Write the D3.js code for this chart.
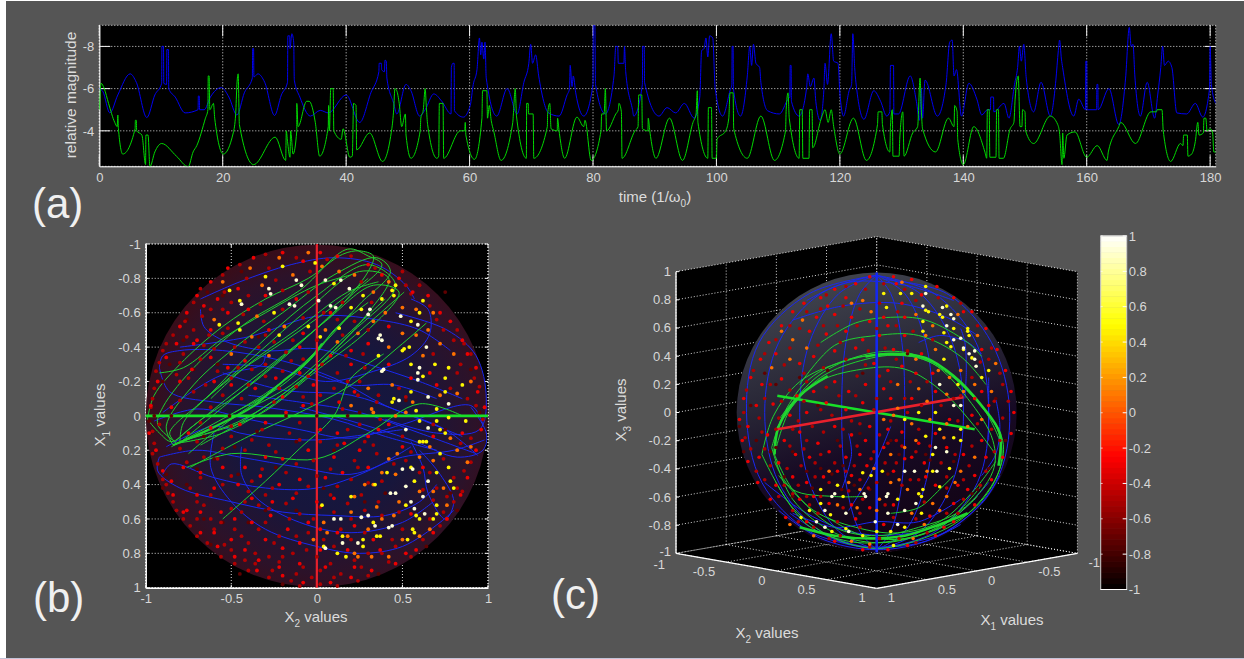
<!DOCTYPE html>
<html>
<head>
<meta charset="utf-8">
<script src="https://cdn.jsdelivr.net/npm/d3@7"></script>
<style>
html, body { margin: 0; padding: 0; background: #fff; overflow: hidden; }
text { font-family: "Liberation Sans", Arial, sans-serif; fill: #dcdcdc; }
.tick text { font-size: 13px; fill: #d8d8d8; }
</style>
</head>
<body>
<svg id="chart" width="1244" height="659"></svg>
<script>
// ---- panel (a) time series: [time, magnitude]
const blueMag = [[0,-6],[.6,-5.85],[1.7,-4.85],[3,-5.7],[5,-6.7],[6,-6.3],[7.7,-4.63],[9,-5.7],[10.1,-6.25],[10.15,-8],[10.4,-8],[10.45,-6.25],[10.9,-6.2],[10.95,-7.85],[11.2,-7.85],[11.25,-6],[12.3,-5.6],[13.9,-4.85],[16,-5],[16.05,-5.65],[16.2,-5.65],[16.25,-5],[17,-5],[18,-5.6],[19.8,-6.05],[21,-5.6],[22.3,-4.75],[23.5,-5.8],[24.8,-6.5],[24.85,-7.9],[25,-7.9],[25.05,-6.55],[25.7,-6.7],[26.8,-6.3],[28.4,-4.73],[29.5,-5.7],[30.5,-6.3],[30.55,-8.5],[30.85,-8.5],[30.9,-7.9],[31.2,-8.6],[31.5,-8.2],[31.6,-6.4],[32.5,-5.6],[34.2,-4.7],[35.8,-4.97],[37.1,-4.85],[40,-5.7],[42.2,-4.4],[44,-5.8],[45.3,-6.8],[45.35,-7.2],[45.7,-7.2],[45.75,-6.9],[46.2,-6.8],[46.3,-7.35],[46.5,-7.3],[46.6,-6.5],[47.7,-5.3],[48.2,-4.8],[49.7,-6.2],[50.5,-5.9],[51.9,-4.7],[52.8,-5],[54.2,-5.75],[55.5,-5.4],[57,-4.8],[57.05,-7],[57.3,-7.2],[57.5,-7.2],[57.55,-4.95],[59,-4.65],[60.1,-5.2],[60.6,-6.2],[61.2,-6.9],[61.6,-8.4],[61.8,-7.6],[62,-8.2],[62.3,-7.4],[62.5,-8.2],[62.7,-6.5],[64.4,-4.7],[66.1,-6],[67.7,-4.8],[68.8,-6.3],[69.6,-7.2],[69.9,-8.1],[70.2,-7.2],[70.7,-7.6],[71.2,-6.6],[72.8,-4.85],[74.5,-4.7],[75.8,-5.7],[76.2,-6],[76.3,-7.1],[76.6,-6.1],[76.8,-6.6],[77.2,-5.8],[78.5,-4.7],[80,-6.2],[80.05,-9],[80.3,-9],[80.4,-6.2],[82,-4.8],[83.4,-6.6],[83.7,-8],[84,-8],[84.1,-7.2],[85,-7.2],[85.1,-8],[85.3,-6.8],[86.4,-5],[86.6,-4.7],[88,-6.2],[88.05,-8],[88.3,-8],[88.35,-6.3],[90.7,-4.7],[92,-5.1],[93.4,-4.85],[94.8,-5.3],[96.4,-4.6],[97.3,-5.6],[97.6,-7.8],[98,-7.9],[98.3,-8.4],[98.6,-7.5],[98.9,-8.5],[99.4,-8.4],[99.8,-6],[101,-4.7],[102.2,-5.9],[102.5,-6.2],[102.55,-8],[102.7,-8],[102.75,-6],[103.9,-4.7],[105,-6.6],[105.4,-8],[105.7,-7.1],[106,-8.1],[106.4,-7.2],[107,-7],[107.2,-6.3],[108.3,-4.95],[110.2,-4.8],[111.6,-5.5],[111.9,-5.6],[111.95,-7.1],[112.1,-7.1],[112.15,-5.4],[113.4,-4.7],[114.6,-6],[114.8,-6.7],[115.2,-6.1],[115.8,-6.5],[116.1,-5.4],[116.8,-4.5],[117.4,-5.9],[117.6,-7.2],[118,-6.2],[118.6,-8.6],[119,-7.3],[119.7,-7.2],[120,-5.8],[120.6,-4.7],[121.5,-5.9],[121.9,-6.2],[122.1,-8.6],[122.4,-7],[122.6,-6.3],[123.9,-4.55],[125.5,-5.9],[126.6,-5.4],[127.6,-4.7],[128.1,-4.9],[128.2,-7.1],[128.7,-7.1],[128.75,-4.8],[129.5,-4.8],[131.4,-6.6],[132.4,-5.4],[132.9,-4.5],[133.2,-6],[133.4,-4.6],[133.8,-6.4],[135.8,-4.7],[137.2,-6.2],[137.8,-8.2],[138.2,-8.3],[138.5,-6.6],[138.9,-6.9],[139.7,-4.7],[140.9,-6.25],[142.2,-5.5],[143,-4.75],[143.9,-5],[144.4,-5],[144.45,-5.6],[144.9,-5.6],[144.95,-4.9],[146.6,-5.3],[147.4,-4.6],[148.3,-6.2],[148.8,-7],[149.1,-8],[149.4,-7.3],[149.8,-8.1],[150.2,-6.5],[151.4,-4.9],[152.6,-6.3],[154.1,-4.7],[155,-6.4],[155.4,-7.8],[155.6,-8.3],[155.9,-7.4],[156.1,-7],[157.9,-4.7],[158.7,-5.5],[159.8,-5],[159.85,-7.3],[160,-7.3],[160.05,-5],[161.6,-5],[161.65,-6.2],[161.8,-6.2],[161.85,-5],[163.6,-6],[165.2,-4.3],[166.3,-6.5],[166.9,-8.9],[167.2,-8],[167.5,-8.1],[167.8,-6.6],[168.7,-4.7],[169.8,-6.3],[171,-4.6],[171.5,-5.7],[172,-7],[172.3,-8],[172.6,-7.1],[173.2,-7.3],[173.8,-7],[174.6,-4.85],[176.2,-4.8],[177.6,-5.3],[178.8,-4.65],[179.9,-6],[180,-8],[180.2,-6.2],[180.9,-5.3]];
const greenMag = [[0,-5],[.3,-6.25],[.8,-6],[1.5,-5.3],[2.5,-4.4],[2.9,-4.2],[3,-4.75],[3.1,-4.1],[3.8,-2.9],[5.8,-4.1],[5.85,-4.5],[6,-4.5],[6.05,-4],[6.9,-3.8],[7.5,-2.4],[7.55,-3.8],[7.9,-3.8],[8.2,-2.3],[9,-3],[10.1,-3.4],[12.5,-2.8],[14.4,-2.3],[15.2,-3],[15.8,-3.3],[17.2,-4.6],[17.6,-5],[17.65,-6.6],[17.8,-6.6],[17.9,-5],[18.5,-5.3],[18.7,-4.6],[20.1,-2.9],[21.7,-3.9],[22.1,-4.8],[22.3,-6.2],[22.5,-6.7],[22.7,-4.3],[25,-2.4],[28.5,-3.7],[30.2,-2.6],[30.3,-4],[30.5,-3.5],[30.9,-2.75],[31,-4],[31.4,-2.9],[32,-4],[32,-5.3],[32.2,-4.2],[33.6,-5.4],[34,-5.4],[35,-4.4],[35.7,-2.8],[37.1,-4.2],[37.15,-5.2],[37.3,-4],[37.5,-6],[37.9,-6],[38,-4],[39.2,-3.6],[39.5,-4.1],[40.6,-2.75],[41,-2.8],[41.2,-5.3],[41.6,-5.2],[41.7,-3.1],[43.8,-3.9],[45.9,-2.55],[47.4,-4.1],[47.7,-5],[47.9,-6],[48.2,-5.9],[48.6,-5.3],[49,-4.2],[49.6,-4.8],[49.7,-3.8],[50.5,-2.7],[52,-4],[52.1,-4.6],[52.5,-5],[52.8,-6],[53,-5.1],[53.2,-4.3],[54.7,-2.7],[55,-2.8],[55.1,-5.3],[55.7,-5.3],[55.8,-2.7],[58.5,-4],[59.2,-4],[59.3,-4.4],[59.4,-3.8],[60.8,-2.65],[62,-4.6],[62.1,-5.9],[62.8,-5.9],[62.9,-4.6],[63.2,-5.2],[63.5,-4.5],[63.9,-4],[65.1,-2.6],[67,-4.4],[67.1,-4.8],[67.4,-6],[67.6,-4.7],[69.2,-2.7],[69.25,-5.3],[69.5,-5.3],[69.55,-4.8],[70.3,-4.8],[70.4,-2.7],[72.6,-4.2],[72.65,-4.8],[73,-5.3],[73.2,-4.1],[74.2,-4],[74.25,-4.6],[74.5,-4],[75.4,-2.7],[77.4,-4.65],[78.5,-4.2],[78.7,-4.5],[79.7,-2.6],[81.3,-4],[81.4,-4.8],[81.8,-4.8],[82,-6],[82.2,-4],[83.7,-4.8],[84.1,-5],[84.2,-5.3],[84.6,-4.9],[84.7,-2.7],[86.8,-4],[87.3,-4.2],[87.4,-5.7],[87.9,-5.7],[88,-4.1],[88.9,-4],[88.95,-4.6],[89.2,-4],[90.2,-2.7],[92.4,-4.6],[94.5,-2.6],[96.2,-4.4],[96.7,-4.8],[96.9,-5.9],[97,-4.4],[98.6,-2.7],[98.7,-5.1],[99.2,-5.1],[99.3,-2.7],[100,-2.7],[100.1,-3.6],[101.5,-4],[102,-4.6],[102.2,-5.8],[102.7,-5.8],[102.8,-4.1],[105,-2.7],[107.2,-4.7],[109.4,-2.6],[111.2,-4],[111.3,-5],[111.6,-5.8],[111.8,-4.6],[113.4,-2.7],[113.5,-5],[113.9,-5],[114,-2.7],[115,-2.7],[115.1,-5],[115.5,-5],[115.6,-3.2],[117,-4.6],[117.6,-5],[118.1,-4.4],[118.6,-5],[119,-4.2],[120,-2.9],[122.2,-4.6],[124.3,-2.6],[126.1,-4.3],[126.2,-4.9],[126.8,-4.9],[126.9,-4.3],[128.1,-3],[128.2,-4.2],[128.5,-5],[128.6,-2.8],[129.6,-2.8],[129.7,-3.6],[130.2,-4.9],[130.4,-2.8],[131.8,-3.9],[132.6,-4.2],[133,-6.5],[133.2,-5],[133.4,-4.1],[135.5,-3],[137.6,-4.6],[138.5,-4.2],[138.6,-5.2],[139,-4.9],[139.1,-3.6],[140,-2.4],[141.7,-4.2],[143.5,-3],[143.8,-2.7],[143.9,-5],[144.2,-5],[144.3,-2.75],[145.3,-2.75],[145.4,-5],[145.7,-5],[145.8,-2.7],[146.5,-2.7],[147.6,-4.1],[148.2,-4.4],[148.4,-5.5],[148.9,-6.6],[149.2,-4.2],[149.5,-4.2],[149.6,-5],[150,-4.9],[150.1,-4],[151.4,-3.4],[154.1,-4.7],[155.3,-4.3],[155.6,-3.9],[156,-2.4],[156.1,-3.9],[156.3,-2.7],[156.8,-3.8],[158.1,-3.95],[160,-2.75],[161.7,-3.3],[163.3,-2.6],[163.5,-3],[165.2,-4.2],[165.5,-4.4],[167.9,-3.4],[170.4,-4.9],[171.3,-4.9],[171.4,-5],[172.2,-5],[172.4,-4],[173.6,-2.55],[175.2,-3.4],[175.6,-3.3],[175.7,-3.8],[176.3,-3.8],[176.4,-2.8],[177,-2.9],[177.6,-3.5],[178,-4.4],[178.2,-3.8],[178.9,-3.9],[179,-4.6],[179.3,-4.6],[179.5,-4],[180,-4.1],[180.4,-3.9],[180.6,-3],[180.9,-3]];
const timeTicks = [0,20,40,60,80,100,120,140,160,180];
const magTicks = [-8,-6,-4];

// ---- panel (b), projected on X2 / X1: [x2, x1] polylines
const greenOrbitsB = [
  [[-.99,.02],[-.95,-.12],[-.8,-.3],[-.55,-.52],[-.3,-.68],[-.05,-.8],[.15,-.94],[.25,-.96],[.33,-.93],[.3,-.84],[.1,-.6],[-.2,-.35],[-.5,-.12],[-.75,.08],[-.85,.15],[-.92,.1],[-.99,.02]],
  [[-.83,.15],[-.93,.05],[-.9,-.05],[-.7,-.3],[-.4,-.55],[-.1,-.73],[.18,-.97],[.3,-.93],[.38,-.88],[.2,-.7],[-.1,-.42],[-.4,-.17],[-.7,.04],[-.83,.15]],
  [[-.84,.17],[-.88,.06],[-.72,-.18],[-.45,-.42],[-.2,-.6],[.1,-.82],[.35,-.92],[.43,-.84],[.25,-.65],[0,-.38],[-.3,-.12],[-.6,.07],[-.84,.17]],
  [[-.82,.16],[-.86,.1],[-.65,-.1],[-.35,-.36],[-.05,-.62],[.25,-.84],[.42,-.8],[.3,-.6],[.05,-.33],[-.25,-.07],[-.55,.1],[-.82,.16]],
  [[-.8,.15],[-.78,.04],[-.6,-.15],[-.3,-.45],[0,-.7],[.3,-.88],[.46,-.76],[.2,-.48],[-.1,-.2],[-.45,.03],[-.8,.15]],
  [[-.78,.14],[-.55,-.05],[-.25,-.3],[.05,-.55],[.33,-.76],[.48,-.72],[.3,-.5],[.02,-.28],[-.35,0],[-.78,.14]],
  [[-.62,-.1],[-.4,-.3],[-.12,-.5],[.18,-.72],[.36,-.78]],
  [[-.75,.22],[-.5,.02],[-.15,-.18],[.12,-.42],[.4,-.68]],
  [[-.68,.17],[-.4,.01],[-.1,-.2],[.2,-.45],[.51,-.72]],
  [[-.55,.6],[-.3,.38],[-.1,.19],[.1,.0],[.2,-.22],[.39,-.36]],
  [[-.76,.3],[-.5,.22],[0,.25],[.3,.1],[.6,-.07],[.85,.0]],
  [[-.74,.3],[-.4,.12],[-.1,-.02],[.2,-.18],[.5,-.42],[.64,-.54]],
  [[-.85,.18],[-.5,-.01],[-.2,-.18],[.01,-.38],[.1,-.5],[.3,-.66]],
  [[-.48,-.02],[-.3,-.13],[-.1,-.28],[.05,-.44],[.2,-.6]],
  [[-.92,-.25],[-.78,-.28],[-.55,-.45],[-.3,-.6],[0,-.76],[.2,-.82]],
  [[-.7,-.06],[-.45,-.26],[-.18,-.44],[.1,-.64],[.3,-.8]]
];
const greenBundlesB = [
  [[-.84,.17],[-.72,.12],[-.55,.04],[-.38,-.05],[-.2,-.2],[-.05,-.32],[.03,-.42]]
];
const blueOrbitsB = [
  [[-.68,-.68],[-.45,-.78],[-.15,-.88],[.1,-.92],[.35,-.88],[.52,-.76],[.57,-.68]],
  [[-.68,-.62],[-.66,-.52],[-.55,-.44],[-.3,-.38],[0,-.39],[.3,-.3],[.6,-.2],[.85,-.1]],
  [[-.92,-.28],[-.9,-.35],[-.8,-.38],[-.55,-.38],[-.2,-.32],[.1,-.22],[.4,-.06],[.75,.08],[.94,.23]],
  [[-.92,-.28],[-.86,-.14],[-.6,-.08],[-.3,-.05],[.1,.02],[.4,.12],[.7,.2]],
  [[-.95,.03],[-.7,-.04],[-.4,.02],[-.1,.08],[.2,.13],[.5,.05],[.9,-.06],[.97,.05]],
  [[-.88,.18],[-.6,.06],[-.45,.1],[-.25,.13],[0,.14],[.2,.12],[.5,.08]],
  [[-.92,.24],[-.7,.2],[-.45,.24],[-.1,.3],[.2,.34],[.5,.24],[.8,.2],[.98,.14]],
  [[-.9,.34],[-.85,.28],[-.6,.36],[-.3,.42],[0,.42],[.3,.32],[.55,.18]],
  [[-.92,.24],[-.93,.32],[-.8,.42],[-.5,.5],[-.2,.56],[.1,.58],[.4,.58],[.6,.5],[.7,.4]],
  [[-.6,.1],[-.62,.3],[-.5,.5],[-.3,.66],[0,.76],[.25,.8],[.5,.76],[.72,.62],[.8,.55]],
  [[-.44,.18],[-.44,.34],[-.35,.48],[-.1,.62],[.2,.68],[.5,.62],[.68,.5]],
  [[.55,-.68],[.65,-.62],[.66,-.48],[.55,-.35],[.3,-.25],[.05,-.2],[-.25,-.28],[-.55,-.3]],
  [[.46,-.6],[.76,-.5],[.93,-.35],[.99,-.1],[.95,.08],[.7,.1],[.4,.02]],
  [[.55,.15],[.62,.3],[.65,.45],[.75,.6],[.8,.5],[.72,.34],[.6,.2]],
  [[.9,-.05],[.99,.1],[.97,.2],[.82,.24],[.55,.14],[.2,.03],[-.1,-.05]],
  [[-.3,-.36],[-.32,-.3],[-.55,-.24],[-.7,-.16],[-.9,-.02]],
  [[-.02,-.25],[.2,-.18],[.45,-.18],[.7,-.1]],
  [[-.4,-.12],[-.1,-.08],[.25,-.02],[.6,.1],[.93,.22]],
  [[-.55,-.25],[-.2,-.15],[.2,-.12],[.5,-.02],[.85,.12]],
  [[-.8,-.4],[-.4,-.46],[0,-.58],[.35,-.56],[.6,-.5],[.78,-.38]]
];
const bDotsWhite = [[-.12,-.79],[-.09,-.76],[-.28,-.74],[-.27,-.71],[-.44,-.65],[-.16,-.65],[-.13,-.64],[.01,-.67],[.05,-.79],[.08,-.64],[.11,-.63],[.19,-.74],[.14,-.79],[.3,-.59],[.31,-.62],[.49,-.58],[.37,-.47],[.38,-.44],[.36,-.45],[.59,-.53],[.38,-.26],[.39,-.27],[.59,-.21],[.59,-.25],[.6,-.28],[.64,-.4],[.48,-.09],[.65,-.11],[.77,-.07],[.65,.07],[.52,.08],[.5,.31],[.56,.31],[.52,.41],[.65,.38],[.46,.45],[.43,.45],[.55,.5],[.44,.64],[.42,.65],[.57,.54],[.63,.57],[.24,.74],[.15,.74],[.05,.77],[.14,.6],[.3,.58],[.26,.59],[.34,.64],[.62,.47],[.1,.6]];
const bDotsYellow = [[-.3,-.81],[-.2,-.87],[-.01,-.89],[.1,-.77],[-.51,-.73],[-.45,-.67],[-.57,-.53],[-.46,-.54],[-.45,-.5],[-.22,-.47],[-.25,-.6],[-.05,-.52],[.02,-.46],[.13,-.51],[.2,-.63],[.26,-.62],[.27,-.7],[.45,-.7],[.44,-.73],[.46,-.76],[.38,-.68],[.6,-.6],[.62,-.67],[.55,-.55],[.54,-.4],[.51,-.39],[.36,-.35],[.5,-.38],[.55,-.3],[.69,-.3],[.77,-.28],[.75,-.22],[.62,-.23],[.55,-.14],[.45,-.1],[.44,-.08],[.58,-.03],[.6,.03],[.7,-.04],[.7,.03],[.77,.01],[.87,.03],[.6,.15],[.62,.15],[.64,.15],[.72,.08],[.75,.1],[.72,.22],[.77,.3],[.78,.38],[.8,.42],[.7,.33],[.57,.38],[.55,.3],[.52,.52],[.58,.58],[.68,.6],[.7,.52],[.7,.57],[.6,.6],[.56,.66],[.57,.68],[.53,.72],[.37,.7],[.27,.72],[.15,.7],[.12,.8],[.17,.82],[.27,.76],[.34,.4],[.2,.47],[.35,.7],[.04,.76],[.03,.52],[.41,.33],[.33,.62],[.75,-.14],[.85,-.18]];
const bDotsOrange = [[-.05,-.95],[-.22,-.92],[-.39,-.86],[-.14,-.82],[-.55,-.78],[-.32,-.76],[.03,-.87],[.13,-.84],[.22,-.82],[.33,-.72],[.42,-.78],[-.6,-.56],[-.35,-.58],[-.38,-.46],[-.5,-.36],[-.28,-.35],[-.19,-.52],[.05,-.5],[.12,-.43],[.24,-.48],[.33,-.55],[.4,-.6],[.5,-.63],[.58,-.62],[.58,-.47],[.65,-.5],[.72,-.42],[.8,-.36],[.9,-.2],[.82,-.13],[.44,-.18],[.3,-.16],[.32,-.04],[.33,-.02],[.2,-.06],[.46,.0],[.52,-.02],[.78,.13],[.82,.2],[.88,.27],[.9,.18],[.68,.26],[.42,.25],[.38,.33],[.33,.4],[.28,.4],[.22,.47],[.45,.58],[.5,.72],[.6,.7],[.35,.53],[.2,.56],[.18,.7],[.04,.62],[-.02,.72],[.24,.82],[.32,.82],[.42,.82],[.06,.68],[.68,.44],[.76,.52],[.46,.34],[.62,-.35],[.72,-.12],[.56,-.08],[.47,.22],[.6,.24],[.66,.18],[.74,.42],[.6,.44],[.48,.5],[.38,.6],[.3,.66],[.22,.8],[.66,.66],[.5,-.48],[.42,-.4],[.68,-.6]];
const bDotsRed = [[-.2,-.95],[-.37,-.92],[-.52,-.86],[-.62,-.78],[-.7,-.7],[-.76,-.6],[-.8,-.52],[-.66,-.64],[-.58,-.68],[-.46,-.74],[-.3,-.7],[-.12,-.68],[-.08,-.9],[.02,-.95],[.12,-.93],[.3,-.88],[.38,-.82],[.48,-.8],[.56,-.72],[.65,-.7],[.72,-.6],[.78,-.55],[.85,-.44],[.88,-.36],[.93,-.28],[.94,-.14],[.98,-.05],[.96,.08],[.93,.2],[.88,.36],[.84,.46],[.76,.6],[.68,.68],[.58,.78],[.46,.86],[.32,.9],[.2,.94],[.08,.97],[-.08,.97],[-.2,.93],[-.35,.9],[-.48,.82],[-.58,.76],[-.68,.68],[-.76,.55],[-.84,.46],[-.9,.32],[-.94,.2],[-.98,.1],[-.97,-.06],[-.93,-.2],[-.88,-.34],[-.82,-.42],[-.7,-.44],[-.62,-.34],[-.73,-.27],[-.6,-.2],[-.52,-.28],[-.42,-.32],[-.36,-.16],[-.24,-.22],[-.2,-.11],[-.1,-.25],[-.02,-.18],[.08,-.35],[.2,-.3],[.22,-.14],[.13,-.08],[-.08,-.06],[-.18,-.02],[-.3,.04],[-.45,.05],[-.62,.07],[-.75,.1],[.02,.08],[.12,.1],[.16,.16],[.3,.12],[.36,.08],[.25,.2],[.1,.24],[-.05,.2],[-.2,.25],[-.3,.24],[-.42,.3],[-.55,.3],[-.68,.33],[-.78,.3],[-.85,.38],[-.7,.46],[-.6,.42],[-.46,.4],[-.33,.35],[-.22,.4],[-.1,.37],[.05,.36],[.15,.33],[.3,.3],[-.78,.56],[-.68,.56],[-.56,.56],[-.48,.6],[-.38,.48],[-.26,.5],[-.14,.48],[.0,.5],[.1,.48],[-.6,.68],[-.5,.72],[-.38,.62],[-.27,.58],[-.17,.66],[-.05,.62],[.02,.66],[.12,.68],[.22,.64],[-.42,.78],[-.3,.72],[-.2,.77],[-.1,.74],[.02,.78],[.18,.78],[.37,.78],[.52,.8],[-.34,.84],[-.22,.88],[-.1,.86],[.05,.88],[.22,.88],[.33,.72],[.55,.57],[.62,.3],[.42,.05],[.5,.18],[.68,.12],[.85,.1],[.7,-.18],[.66,-.25],[.55,-.22],[.42,-.3],[.3,-.42],[.2,-.38],[.42,-.52],[-.1,-.4],[-.28,-.5],[-.4,-.62],[-.52,-.6],[-.62,-.5],[-.72,-.42],[-.8,-.2],[-.85,-.05],[-.5,-.18],[-.08,-.48],[.08,-.6]];
const bDotsDeep = [[-.3,-.94],[-.12,-.92],[.06,-.91],[.2,-.93],[.34,-.86],[-.45,-.88],[-.28,-.86],[-.04,-.84],[.26,-.78],[.5,-.84],[-.55,-.82],[-.41,-.8],[-.24,-.79],[.32,-.66],[.52,-.76],[.6,-.76],[-.68,-.74],[-.54,-.72],[-.4,-.7],[-.2,-.73],[-.05,-.72],[.55,-.71],[.66,-.64],[-.72,-.66],[-.62,-.62],[-.5,-.66],[-.33,-.65],[-.2,-.62],[.04,-.6],[.15,-.66],[.7,-.56],[-.77,-.55],[-.67,-.58],[-.55,-.62],[-.43,-.59],[-.31,-.55],[-.08,-.57],[.22,-.55],[.74,-.5],[.82,-.5],[-.84,-.47],[-.72,-.5],[-.63,-.47],[-.52,-.51],[-.3,-.47],[-.14,-.44],[.12,-.56],[.3,-.5],[.8,-.44],[-.88,-.42],[-.76,-.46],[-.66,-.41],[-.55,-.48],[-.42,-.43],[-.25,-.43],[-.08,-.33],[.15,-.47],[.86,-.42],[-.9,-.38],[-.78,-.36],[-.6,-.39],[-.48,-.4],[-.34,-.4],[-.18,-.37],[0,-.44],[.27,-.36],[.9,-.36],[-.92,-.31],[-.8,-.31],[-.68,-.33],[-.46,-.28],[-.3,-.3],[-.15,-.32],[.03,-.3],[.17,-.35],[.68,-.36],[.84,-.3],[-.94,-.26],[-.75,-.22],[-.58,-.26],[-.38,-.27],[-.2,-.26],[-.05,-.23],[.12,-.25],[.28,-.28],[.82,-.25],[.92,-.22],[-.95,-.16],[-.82,-.24],[-.65,-.18],[-.5,-.22],[-.3,-.23],[-.12,-.17],[.02,-.12],[.18,-.2],[.25,-.2],[.95,-.17],[-.96,-.1],[-.72,-.14],[-.55,-.12],[-.4,-.18],[-.22,-.16],[-.08,-.11],[.1,-.16],[.24,-.12],[.36,-.12],[.48,-.16],[.88,-.1],[-.97,-.05],[-.8,-.09],[-.62,-.05],[-.44,-.1],[-.25,-.08],[-.03,-.07],[.15,-.04],[.35,-.08],[.52,-.11],[.78,-.16],[.93,-.06],[-.92,.05],[-.68,.04],[-.5,.06],[-.32,.08],[-.1,.04],[.25,.05],[.37,.02],[.68,.05],[.97,.02],[-.96,.09],[-.7,.15],[-.5,.12],[-.38,.14],[-.16,.1],[.02,.15],[.18,.08],[.33,.17],[.5,.12],[.9,.13],[-.95,.16],[-.8,.19],[-.55,.19],[-.28,.17],[-.1,.14],[.12,.17],[.28,.15],[.55,.21],[.84,.16],[-.96,.22],[-.66,.24],[-.42,.2],[-.24,.21],[-.02,.26],[.22,.26],[.35,.22],[.52,.26],[.74,.25],[.9,.27],[-.93,.28],[-.76,.27],[-.58,.25],[-.32,.31],[-.12,.28],[.08,.31],[.24,.3],[.45,.28],[.66,.33],[.86,.32],[-.9,.37],[-.68,.36],[-.5,.35],[-.38,.38],[-.18,.33],[.0,.35],[.2,.37],[.38,.38],[.6,.33],[.8,.36],[-.88,.4],[-.74,.42],[-.55,.4],[-.4,.44],[-.26,.42],[-.05,.41],[.12,.41],[.3,.39],[.7,.42],[.82,.42],[-.87,.45],[-.7,.5],[-.62,.46],[-.42,.5],[-.3,.46],[-.12,.45],[.08,.46],[.26,.46],[.62,.43],[.76,.47],[.85,.44],[-.84,.5],[-.66,.52],[-.5,.54],[-.34,.52],[-.18,.51],[.02,.53],[.18,.51],[.36,.5],[.68,.49],[.8,.5],[-.82,.55],[-.7,.6],[-.56,.62],[-.44,.56],[-.28,.54],[-.1,.57],[.1,.56],[.28,.55],[.48,.56],[.74,.56],[-.78,.6],[-.62,.6],[-.48,.66],[-.3,.62],[-.16,.6],[-.02,.6],[.2,.6],[.38,.58],[.66,.6],[.76,.6],[-.74,.64],[-.6,.66],[-.44,.7],[-.34,.66],[-.22,.7],[-.05,.68],[.14,.66],[.28,.68],[.5,.66],[.72,.64],[-.7,.7],[-.54,.75],[-.4,.74],[-.25,.74],[-.12,.7],[.04,.72],[.2,.72],[.44,.72],[.62,.72],[-.64,.74],[-.5,.78],[-.36,.8],[-.2,.82],[-.06,.78],[.1,.76],[.3,.8],[.46,.76],[-.56,.82],[-.42,.84],[-.28,.82],[-.14,.8],[0,.82],[.22,.84],[.38,.8],[.55,.82],[-.48,.86],[-.36,.86],[-.22,.85],[-.08,.88],[.08,.86],[.26,.88],[.42,.85],[-.4,.9],[-.26,.9],[-.12,.92],[.02,.9],[.14,.92],[.3,.93],[-.28,.94],[-.15,.96],[-.03,.94],[.1,.94],[.24,.96],[-.1,.99],[.02,.98],[.12,.99]];
const bDotsDark = [[-.95,.0],[-.85,.0],[-.51,.0],[-.18,.0],[0,.0],[.18,.0],[.52,-.09],[.9,-.27],[.95,-.02],[-.98,.03],[-.88,.34],[-.7,.31],[-.48,.18],[-.35,.09],[-.55,-.7],[-.72,-.27],[-.76,-.56],[-.9,-.2],[-.46,.34],[-.55,.62],[-.66,.6],[.75,.08],[.78,.45],[.6,-.76],[.28,.5],[.1,.2],[-.12,.15],[.25,-.02],[.75,-.72],[.62,.15],[-.3,.55],[-.76,.4],[-.6,.25],[-.12,.55],[-.86,-.3],[-.78,-.44],[-.64,-.72],[-.44,-.84],[-.34,-.46],[-.58,-.3],[-.66,.12],[-.9,.42],[-.62,.75],[-.45,.92],[-.2,.98],[.36,.92],[.64,.76],[.82,.55],[-.24,.3],[.04,.42],[-.4,.62],[.4,.45]];

// ---- panel (c), in the plane of the view: [across, up], sphere radius = 1
const blueOrbitsC = [
  [[0,.98],[.1,.85],[.18,.5],[.2,0],[.18,-.5],[.1,-.85],[0,-.98]],
  [[0,.98],[.2,.85],[.35,.5],[.4,0],[.35,-.5],[.2,-.85],[0,-.98]],
  [[0,.98],[.31,.85],[.54,.5],[.62,0],[.54,-.5],[.31,-.85],[0,-.98]],
  [[0,.98],[.41,.85],[.71,.5],[.8,0],[.72,-.5],[.42,-.85],[0,-.98]],
  [[.05,.95],[.5,.85],[.82,.5],[.95,0],[.85,-.5],[.5,-.85],[.05,-.96]],
  [[0,.98],[-.12,.85],[-.22,.5],[-.25,0],[-.22,-.5],[-.12,-.85],[0,-.98]],
  [[0,.98],[-.27,.85],[-.48,.5],[-.55,0],[-.48,-.5],[-.27,-.85],[0,-.98]],
  [[0,.98],[-.4,.85],[-.7,.5],[-.8,0],[-.7,-.5],[-.4,-.85],[0,-.98]],
  [[0,.98],[-.48,.85],[-.84,.5],[-.93,.0],[-.82,-.5],[-.48,-.85],[0,-.98]],
  [[-.5,.8],[-.2,.93],[.2,.91],[.55,.8]],
  [[-.6,.66],[-.25,.76],[.15,.78],[.5,.68],[.72,.55]],
  [[.3,.5],[.45,.55],[.65,.5],[.75,.42]],
  [[.63,.1],[.64,.3],[.63,.5],[.6,.6]],
  [[.8,.25],[.8,.0],[.8,-.2]],
  [[-.8,-.5],[-.5,-.72],[-.15,-.86],[.25,-.86],[.55,-.75],[.8,-.5]],
  [[-.7,-.7],[-.4,-.9],[0,-.98],[.4,-.9],[.75,-.65],[.88,-.45]],
  [[-.6,-.72],[-.3,-.82],[0,-.78],[.3,-.78],[.6,-.62]],
  [[-.25,-.55],[-.18,-.3],[-.2,-.15]],
  [[.1,-.1],[-.05,-.45],[-.2,-.7]],
  [[.75,-.45],[.85,-.3],[.88,-.1],[.85,.1]],
  [[-.62,-.72],[-.42,-.85],[-.2,-.94],[.1,-.96],[.35,-.92],[.6,-.8]]
];
const greenOrbitsC = [
  [[-.82,-.3],[-.74,-.03],[-.55,.22],[-.25,.36],[.1,.42],[.4,.35],[.72,.08],[.9,-.2],[.86,-.45],[.62,-.75],[.3,-.91],[0,-.97],[-.3,-.9],[-.6,-.68],[-.82,-.3]],
  [[-.75,-.25],[-.66,0],[-.48,.24],[-.2,.38],[.1,.41],[.4,.36],[.68,.12],[.87,-.14],[.88,-.4],[.68,-.7],[.3,-.88],[0,-.93],[-.3,-.86],[-.6,-.62],[-.75,-.25]],
  [[-.73,-.3],[-.62,.02],[-.4,.25],[-.15,.36],[.15,.41],[.4,.35],[.65,.1],[.83,-.2],[.83,-.42],[.6,-.7],[.3,-.82],[0,-.88],[-.3,-.82],[-.6,-.55],[-.73,-.3]],
  [[-.7,-.05],[-.42,.26],[-.1,.41],[.2,.43],[.5,.3],[.78,.0],[.88,-.2]],
  [[-.72,-.12],[-.45,.2],[-.1,.31],[.2,.31],[.48,.14],[.7,-.1],[.85,-.3]],
  [[-.55,.2],[-.3,.48],[.0,.55],[.3,.55],[.6,.4],[.78,.2]],
  [[-.4,.5],[-.15,.64],[.1,.68],[.35,.66],[.65,.5],[.75,.4]],
  [[-.73,-.35],[-.6,-.55],[-.3,-.6],[-.1,-.6]],
  [[-.7,-.45],[-.45,-.7],[-.15,-.82],[.15,-.86],[.45,-.78],[.7,-.55],[.85,-.35]],
  [[-.72,-.5],[-.5,-.8],[-.2,-.92],[.1,-.92],[.45,-.82],[.72,-.6]],
  [[.1,-.72],[.3,-.68],[.45,-.55],[.55,-.45]],
  [[-.35,-.75],[-.1,-.88],[.2,-.9],[.5,-.78],[.75,-.52]]
];
const greenBundlesC = [
  [[-.73,-.3],[-.7,-.1],[-.55,.12],[-.35,.26]],
  [[-.08,.4],[.1,.42],[.35,.39],[.55,.26],[.74,.06],[.88,-.15],[.87,-.38]],
  [[-.55,-.82],[-.3,-.88],[-.05,-.9],[.2,-.88],[.45,-.8],[.65,-.72]]
];
const cDotsWhite = [[.33,.76],[.35,.85],[.47,.75],[.53,.7],[.55,.67],[.6,.53],[.55,.52],[.62,.46],[.7,.44],[.7,.38],[.71,.33],[.45,.2],[.6,.05],[.55,.05],[.42,-.25],[.5,-.28],[.43,-.42],[.27,-.42],[.08,-.58],[.07,-.6],[-.08,-.6],[-.09,-.58],[-.3,-.58],[-.32,-.6],[.08,-.72],[.2,-.7],[-.37,-.7],[-.22,-.72],[-.43,-.78],[-.37,-.82],[-.2,-.85],[-.01,-.78],[.15,-.8],[.28,-.65],[.5,.62],[.66,.42],[.2,-.42]];
const cDotsYellow = [[.35,.9],[.45,.7],[.37,.72],[.47,.68],[.5,.76],[.48,.57],[.5,.5],[.65,.6],[.65,.58],[.66,.55],[.55,.6],[.62,.45],[.68,.39],[.53,.47],[.33,.58],[.35,.73],[.33,.65],[.25,.85],[.17,.85],[.07,.75],[.05,.85],[.75,.25],[.8,.3],[.2,-.05],[.3,.0],[.45,-.12],[.55,-.18],[.6,-.2],[.35,-.17],[.4,-.3],[.52,-.4],[.4,-.42],[.33,-.55],[.32,-.6],[.3,-.58],[.15,-.62],[.04,-.42],[-.04,-.45],[-.1,-.43],[-.28,-.52],[-.4,-.55],[-.24,-.6],[-.33,-.73],[-.4,-.65],[-.48,-.7],[-.54,-.75],[-.32,-.85],[-.22,-.83],[-.1,-.88],[0,-.85],[.1,-.85],[.2,-.82],[.32,-.72],[.45,-.53],[.12,-.95],[.6,-.12],[.42,.0],[.48,.38],[.58,.2]];
const cDotsOrange = [[.18,.93],[.28,.7],[.35,.55],[.42,.45],[.4,.62],[.58,.7],[.6,.3],[.72,.55],[.82,.15],[.85,.35],[.3,.17],[.36,.08],[.5,.13],[.25,-.08],[.12,-.02],[.05,-.05],[.15,.2],[.2,-.25],[.1,-.3],[-.02,-.4],[-.12,-.55],[-.2,-.5],[-.34,-.42],[-.04,.72],[-.1,.8],[-.18,.78],[-.6,.52],[-.53,.66],[-.68,.58],[-.75,.32],[-.62,.38],[-.5,.46],[.4,-.65],[.5,-.6],[.45,-.7],[.6,-.42],[.7,-.32],[.22,-.55],[.25,-.72],[-.18,-.92],[-.05,-.94],[.26,-.9],[.34,-.8],[-.62,-.8],[-.45,-.88],[.02,-.62],[.1,-.5],[.65,-.1],[.75,-.05],[.15,.03],[.28,.38],[.62,.15],[.44,.3],[.52,.25],[.7,.2],[.38,-.05],[.5,-.08],[.28,-.2],[.48,-.18],[.36,-.42],[.56,-.5],[.16,-.48],[-.14,-.68],[.0,-.7],[-.28,-.66]];
const cDotsRed = [[-.3,.88],[-.4,.82],[-.52,.78],[-.6,.72],[-.68,.62],[-.77,.5],[-.83,.38],[-.9,.25],[-.95,.1],[-.98,-.05],[-.96,-.2],[-.92,-.35],[-.85,-.5],[-.76,-.62],[-.65,-.75],[-.15,.92],[-.05,.97],[.12,.97],[.25,.95],[.43,.9],[.55,.82],[.68,.72],[.78,.6],[.86,.45],[.92,.3],[.96,.15],[.98,0],[.96,-.15],[.9,-.32],[.82,-.48],[.7,-.66],[.55,-.78],[.42,-.88],[.22,-.95],[-.43,.68],[-.3,.7],[-.18,.68],[-.05,.65],[.08,.62],[.2,.55],[-.48,.58],[-.36,.56],[-.22,.58],[-.1,.52],[.02,.55],[.12,.45],[.2,.68],[-.72,.42],[-.55,.35],[-.45,.4],[-.3,.44],[-.15,.46],[-.02,.35],[.08,.3],[.18,.33],[.28,.28],[-.82,.2],[-.68,.24],[-.57,.12],[-.45,.15],[-.3,.22],[-.2,.15],[-.08,.2],[.05,.17],[-.86,.05],[-.74,.06],[-.62,-.02],[-.5,0],[-.36,.07],[-.22,.02],[-.1,.07],[-.05,-.1],[-.92,-.1],[-.78,-.16],[-.66,-.2],[-.55,-.14],[-.42,-.22],[-.3,-.1],[-.18,-.16],[-.08,-.2],[.08,-.12],[.18,-.14],[.3,-.22],[.42,-.15],[.52,-.05],[.7,.1],[.75,.15],[-.84,-.32],[-.7,-.36],[-.58,-.3],[-.48,-.32],[-.34,-.28],[-.22,-.32],[-.12,-.3],[.05,-.25],[.25,-.32],[.34,-.36],[.5,-.25],[.62,-.3],[.75,-.2],[-.72,-.52],[-.6,-.46],[-.5,-.5],[-.38,-.46],[-.28,-.42],[-.18,-.45],[-.07,-.38],[.12,-.42],[.2,-.33],[.58,-.52],[.7,-.45],[.78,-.32],[-.55,-.62],[-.45,-.6],[-.34,-.65],[-.18,-.66],[-.05,-.68],[.12,-.66],[.35,-.46],[.42,-.52],[.55,-.65],[.65,-.55],[-.5,-.78],[-.3,-.92],[-.15,-.76],[.05,-.8],[.38,-.74],[.48,-.82],[-.1,-.98],[.08,-.98],[.32,.42],[.4,.28],[.42,.15],[.25,.1],[.1,.1],[.32,.84],[.18,.78],[.05,.68],[.62,.72],[.75,.45],[.8,.05],[.68,-.02],[.14,.92],[-.22,.82],[-.35,.76]];
const cDotsDeep = [[-.22,.9],[-.08,.88],[.05,.92],[.2,.88],[-.36,.84],[-.5,.72],[-.4,.74],[-.24,.76],[-.12,.74],[.02,.78],[.15,.72],[.28,.8],[.44,.82],[.6,.78],[-.62,.62],[-.55,.6],[-.38,.62],[-.28,.62],[-.14,.62],[0,.6],[.14,.62],[.26,.58],[.4,.52],[.72,.62],[-.72,.52],[-.62,.46],[-.42,.48],[-.26,.5],[-.06,.44],[.06,.46],[.22,.44],[.74,.36],[.82,.46],[-.8,.42],[-.66,.34],[-.52,.28],[-.38,.32],[-.22,.38],[-.08,.34],[.14,.38],[.24,.22],[.36,.22],[.8,.38],[.88,.28],[-.88,.3],[-.76,.2],[-.62,.16],[-.5,.22],[-.36,.18],[-.14,.26],[.02,.26],[.1,.22],[.55,.1],[.68,.25],[.9,.2],[-.93,.16],[-.8,.1],[-.68,.08],[-.52,.08],[-.4,.02],[-.27,.12],[-.15,.12],[0,.1],[.2,.1],[.32,.05],[.6,.12],[.84,.08],[.94,.08],[-.95,.0],[-.84,-.04],[-.7,-.04],[-.56,-.06],[-.46,-.1],[-.32,-.02],[-.18,-.06],[-.02,.02],[.1,-.06],[.22,.0],[.46,.05],[.72,-.08],[.9,-.04],[-.94,-.18],[-.82,-.14],[-.72,-.12],[-.6,-.12],[-.5,-.2],[-.38,-.14],[-.24,-.12],[-.12,-.08],[.02,-.16],[.14,-.2],[.3,-.12],[.58,-.06],[.82,-.12],[.88,-.2],[-.9,-.26],[-.8,-.26],[-.62,-.24],[-.52,-.26],[-.4,-.3],[-.26,-.24],[-.14,-.24],[-.02,-.28],[.08,-.22],[.18,-.24],[.38,-.24],[.56,-.3],[.68,-.24],[.84,-.28],[-.86,-.42],[-.76,-.38],[-.64,-.4],[-.54,-.38],[-.44,-.36],[-.3,-.36],[-.16,-.38],[-.04,-.33],[.06,-.36],[.28,-.28],[.46,-.36],[.66,-.38],[.78,-.42],[-.8,-.48],[-.66,-.52],[-.56,-.52],[-.44,-.46],[-.34,-.5],[-.22,-.42],[-.12,-.48],[.0,-.5],[.14,-.36],[.24,-.48],[.5,-.46],[.62,-.48],[.74,-.52],[-.7,-.6],[-.6,-.58],[-.5,-.6],[-.4,-.6],[-.2,-.56],[-.06,-.54],[.18,-.52],[.3,-.48],[.5,-.54],[.62,-.62],[-.6,-.7],[-.48,-.66],[-.24,-.68],[-.1,-.62],[.06,-.66],[.34,-.64],[.58,-.72],[-.56,-.78],[-.42,-.72],[-.28,-.78],[-.12,-.72],[.12,-.75],[.28,-.76],[.5,-.72],[-.45,-.82],[-.26,-.88],[-.12,-.82],[.02,-.9],[.16,-.9],[.36,-.86],[-.34,-.9],[-.05,-.96],[.28,-.93]];
const cDotsDark = [[-.98,-.1],[-.9,.05],[-.95,-.28],[-.8,.28],[-.72,-.25],[-.6,-.28],[-.42,.05],[-.55,.25],[-.28,-.2],[-.12,-.15],[-.4,-.4],[-.25,-.55],[-.6,-.6],[-.1,.28],[.1,-.2],[.35,-.3],[.72,-.55],[.92,-.2],[-.72,.2],[.22,.42],[-.05,-.55],[-.35,.3],[.55,-.35],[.85,.1],[-.76,-.28],[-.86,-.2],[-.66,-.46],[-.46,-.54],[-.32,-.44],[-.16,-.52],[.08,-.44],[.16,-.3],[.38,-.34],[-.5,-.42],[-.24,-.38],[.68,-.58],[.8,-.4]];

// ---- tick labels and colormap stops
const x2TicksB = [-1,-.5,0,.5,1];
const x1TicksB = [-1,-.8,-.6,-.4,-.2,0,.2,.4,.6,.8,1];
const x3Ticks = [-1,-.8,-.6,-.4,-.2,0,.2,.4,.6,.8,1];
const floorTicks = [-1,-.5,0,.5,1];
const barTicks = [-1,-.8,-.6,-.4,-.2,0,.2,.4,.6,.8,1];
const hotStops = [-1,-.25,.5,1];
const hotColors = ["#000000","#ff0000","#ffff00","#ffffff"];

const hot = d3.scaleLinear().domain(hotStops).range(hotColors).clamp(true);
const svg = d3.select("#chart");
const defs = svg.append("defs");
const plain = d => String(d);
const GRID = "1 2";

svg.append("rect").attr("x", 6).attr("y", 1).attr("width", 1238).attr("height", 657).attr("fill", "#555555");
svg.append("rect").attr("x", 0).attr("y", 658).attr("width", 1244).attr("height", 1).attr("fill", "#c3c3d8");

function panelLabel(text, x, y) {
    svg.append("text").attr("x", x).attr("y", y).attr("font-size", 42).style("fill", "#f0f0f0").text(text);
}

function subLabel(text, sub, rest, x, y, rotate) {
    const t = svg.append("text")
        .attr("text-anchor", "middle")
        .attr("font-size", 15)
        .attr("transform", `translate(${x},${y})` + (rotate ? " rotate(-90)" : ""));
    t.append("tspan").text(text);
    t.append("tspan").attr("font-size", 10).attr("dy", 5).text(sub);
    t.append("tspan").attr("dy", -5).text(rest);
}

// dotted grid plus short solid ticks at both ends, the matlab look
function frame(g, x, y, xTicks, yTicks, tickLen, lineColor) {
    const [x0, x1] = x.range();
    const [y0, y1] = y.range();

    g.append("rect").attr("x", x0).attr("y", y0).attr("width", x1 - x0).attr("height", y1 - y0).attr("fill", "#000");

    const bottom = d3.axisBottom(x).tickValues(xTicks).tickFormat(plain).tickSize(0).tickPadding(6);
    const left = d3.axisLeft(y).tickValues(yTicks).tickFormat(plain).tickSize(0).tickPadding(5);

    const xg = g.append("g").attr("transform", `translate(0,${y1})`).call(bottom);
    const yg = g.append("g").attr("transform", `translate(${x0},0)`).call(left);
    xg.select(".domain").attr("stroke", lineColor).attr("stroke-width", 1.5);
    yg.select(".domain").attr("stroke", lineColor).attr("stroke-width", 1.5);

    const grid = g.append("g").attr("stroke", "#fff").attr("stroke-dasharray", GRID).attr("stroke-opacity", .85);
    grid.selectAll(".gx").data(xTicks.concat(x.domain())).join("line")
        .attr("x1", d => x(d)).attr("x2", d => x(d)).attr("y1", y0).attr("y2", y1);
    grid.selectAll(".gy").data(yTicks.concat(y.domain())).join("line")
        .attr("x1", x0).attr("x2", x1).attr("y1", d => y(d)).attr("y2", d => y(d));

    const marks = g.append("g").attr("stroke", "#f2f2f2").attr("stroke-width", 1);
    xTicks.forEach(d => {
        marks.append("line").attr("x1", x(d)).attr("x2", x(d)).attr("y1", y1).attr("y2", y1 - tickLen);
        marks.append("line").attr("x1", x(d)).attr("x2", x(d)).attr("y1", y0).attr("y2", y0 + tickLen);
    });
    yTicks.forEach(d => {
        marks.append("line").attr("x1", x0).attr("x2", x0 + tickLen).attr("y1", y(d)).attr("y2", y(d));
        marks.append("line").attr("x1", x1).attr("x2", x1 - tickLen).attr("y1", y(d)).attr("y2", y(d));
    });
}

function clipRect(id, x, y) {
    defs.append("clipPath").attr("id", id).append("rect")
        .attr("x", x.range()[0]).attr("y", y.range()[0])
        .attr("width", x.range()[1] - x.range()[0]).attr("height", y.range()[1] - y.range()[0]);
}

function drawDots(g, dots, value, x, y, r) {
    g.append("g").selectAll("circle").data(dots).join("circle")
        .attr("cx", d => x(d[0])).attr("cy", d => y(d[1])).attr("r", r).attr("fill", hot(value));
}

function drawOrbits(g, orbits, color, width, x, y, curve) {
    const line = d3.line().x(d => x(d[0])).y(d => y(d[1])).curve(curve);
    g.append("g").selectAll("path").data(orbits).join("path")
        .attr("d", line).attr("fill", "none").attr("stroke", color).attr("stroke-width", width);
}

// ---- (a)
const ax = d3.scaleLinear().domain([0, 180.9]).range([99.3, 1215.7]);
const ay = d3.scaleLinear().domain([-9, -2.32]).range([25.3, 166.3]);
const gA = svg.append("g");
frame(gA, ax, ay, timeTicks, magTicks, 11, "#c8c8c8");
clipRect("clipA", ax, ay);
const lineA = d3.line().x(d => ax(d[0])).y(d => ay(d[1])).curve(d3.curveMonotoneX);
const seriesA = gA.append("g").attr("clip-path", "url(#clipA)");
seriesA.append("path").attr("d", lineA(blueMag)).attr("fill", "none").attr("stroke", "#0000f0").attr("stroke-width", 1);
seriesA.append("path").attr("d", lineA(greenMag)).attr("fill", "none").attr("stroke", "#00d800").attr("stroke-width", 1);
svg.append("text").attr("text-anchor", "middle").attr("font-size", 15.5)
    .attr("transform", "translate(76,95) rotate(-90)").text("relative magnitude");
const timeLabel = svg.append("text").attr("text-anchor", "middle").attr("font-size", 15)
    .attr("transform", "translate(655,202)");
timeLabel.append("tspan").text("time (1/\u03c9");
timeLabel.append("tspan").attr("font-size", 10).attr("dy", 5).text("0");
timeLabel.append("tspan").attr("dy", -5).text(")");
panelLabel("(a)", 32, 218);

// ---- (b)
const bx = d3.scaleLinear().domain([-1, 1]).range([145.7, 488]);
const by = d3.scaleLinear().domain([-1, 1]).range([244, 587.7]);
const gB = svg.append("g");
frame(gB, bx, by, x2TicksB, x1TicksB, 3, "#ffffff");

const sphereB = defs.append("radialGradient").attr("id", "sphereB").attr("cx", "52%").attr("cy", "52%").attr("r", "52%");
sphereB.append("stop").attr("offset", "0%").attr("stop-color", "#121844");
sphereB.append("stop").attr("offset", "50%").attr("stop-color", "#17163c");
sphereB.append("stop").attr("offset", "85%").attr("stop-color", "#2c1229");
sphereB.append("stop").attr("offset", "100%").attr("stop-color", "#380d1a");
gB.append("circle").attr("cx", bx(0)).attr("cy", by(0)).attr("r", bx(1) - bx(0)).attr("fill", "url(#sphereB)");

drawOrbits(gB, blueOrbitsB, "#1a28f0", 1, bx, by, d3.curveCatmullRom);
drawOrbits(gB, greenOrbitsB, "#20d030", 1, bx, by, d3.curveCatmullRom);
drawOrbits(gB, greenBundlesB, "#20d030", 2, bx, by, d3.curveCatmullRom);
gB.append("line").attr("x1", bx(0)).attr("x2", bx(0)).attr("y1", by(-1)).attr("y2", by(1)).attr("stroke", "#e8202c").attr("stroke-width", 2.2);
gB.append("line").attr("x1", bx(-1)).attr("x2", bx(1)).attr("y1", by(0)).attr("y2", by(0)).attr("stroke", "#18e028").attr("stroke-width", 2.6);
drawDots(gB, bDotsDark, -.72, bx, by, 1.9);
drawDots(gB, bDotsDeep, -.48, bx, by, 1.9);
drawDots(gB, bDotsRed, -.3, bx, by, 1.9);
drawDots(gB, bDotsOrange, .08, bx, by, 1.9);
drawDots(gB, bDotsYellow, .48, bx, by, 1.9);
drawDots(gB, bDotsWhite, .92, bx, by, 1.9);
subLabel("X", "2", " values", 316, 622, false);
subLabel("X", "1", " values", 105, 415, true);
panelLabel("(b)", 33, 612);

// ---- (c) the box is projected from X1, X2, X3 onto the view plane
const vx = d3.scaleLinear().domain([-1, 1]).range([736.7, 1016.7]);
const vy = d3.scaleLinear().domain([-1, 1]).range([552.5, 272.5]);
const project = (x1, x2, x3) => [vx((x2 - x1) * .7167), vy(x3 * 1.006 - (x1 + x2) * .125)];
const gC = svg.append("g");

const outline = [[1,-1,1],[-1,-1,1],[-1,1,1],[-1,1,-1],[1,1,-1],[1,-1,-1]].map(p => project(...p));
gC.append("path").attr("d", d3.line()(outline) + "Z").attr("fill", "#000");

const seg = (a, b, dashed) => gC.append("line")
    .attr("x1", project(...a)[0]).attr("y1", project(...a)[1])
    .attr("x2", project(...b)[0]).attr("y2", project(...b)[1])
    .attr("stroke", "#fff").attr("stroke-width", dashed ? 1 : 1.3)
    .attr("stroke-opacity", dashed ? .85 : 1).attr("stroke-dasharray", dashed ? GRID : null);

x3Ticks.forEach(z => {
    seg([1,-1,z], [-1,-1,z], true);
    seg([-1,-1,z], [-1,1,z], true);
});
floorTicks.forEach(t => {
    seg([t,-1,-1], [t,-1,1], true);
    seg([-1,t,-1], [-1,t,1], true);
    seg([t,-1,-1], [t,1,-1], true);
    seg([-1,t,-1], [1,t,-1], true);
});
seg([1,-1,-1], [1,1,-1], false);
seg([1,1,-1], [-1,1,-1], false);
seg([1,-1,-1], [1,-1,1], false);

const tickText = (x, y, anchor, s) => svg.append("text").attr("x", x).attr("y", y).attr("text-anchor", anchor)
    .attr("font-size", 13).style("fill", "#d8d8d8").text(s);
x3Ticks.forEach(z => {
    const [px, py] = project(1, -1, z);
    tickText(px - 5, py + (z === -1 ? 2.5 : 4.5), "end", plain(z));
    gC.append("line").attr("x1", px).attr("x2", px + 3).attr("y1", py).attr("y2", py).attr("stroke", "#fff");
});
floorTicks.forEach(t => {
    const [px, py] = project(1, t, -1);
    tickText(px - 11, py + (t === -1 ? 16 : 14), "end", plain(t));
    const [qx, qy] = project(t, 1, -1);
    tickText(qx + 11, qy + 14, "start", plain(t));
});

const sphereC = defs.append("linearGradient").attr("id", "sphereC").attr("x1", "30%").attr("y1", "5%").attr("x2", "60%").attr("y2", "100%");
sphereC.append("stop").attr("offset", "0%").attr("stop-color", "#3f424c");
sphereC.append("stop").attr("offset", "35%").attr("stop-color", "#282636");
sphereC.append("stop").attr("offset", "62%").attr("stop-color", "#170a24");
sphereC.append("stop").attr("offset", "100%").attr("stop-color", "#120212");
gC.append("circle").attr("cx", vx(0)).attr("cy", vy(0)).attr("r", vx(1) - vx(0)).attr("fill", "url(#sphereC)");

drawOrbits(gC, blueOrbitsC, "#1a28f0", 1, vx, vy, d3.curveCatmullRom);
drawOrbits(gC, greenOrbitsC, "#20d030", 1, vx, vy, d3.curveCatmullRom);
drawOrbits(gC, greenBundlesC, "#20d830", 2.6, vx, vy, d3.curveCatmullRom);
drawOrbits(gC, [[[-.71,.12],[.7,-.12]]], "#18e028", 2.6, vx, vy, d3.curveLinear);
drawOrbits(gC, [[[-.71,-.12],[.62,.11]]], "#e8202c", 2.6, vx, vy, d3.curveLinear);
drawOrbits(gC, [[[0,1],[0,-1]]], "#1428f0", 2.6, vx, vy, d3.curveLinear);
drawDots(gC, cDotsDark, -.72, vx, vy, 1.8);
drawDots(gC, cDotsDeep, -.48, vx, vy, 1.8);
drawDots(gC, cDotsRed, -.3, vx, vy, 1.8);
drawDots(gC, cDotsOrange, .08, vx, vy, 1.8);
drawDots(gC, cDotsYellow, .48, vx, vy, 1.8);
drawDots(gC, cDotsWhite, .92, vx, vy, 1.8);
subLabel("X", "1", " values", 1012, 625, false);
subLabel("X", "2", " values", 767, 638, false);
subLabel("X", "3", " values", 626, 410, true);
panelLabel("(c)", 551, 609);

// ---- colorbar
const barY = d3.scaleLinear().domain([-1, 1]).range([589.5, 236]);
const barX0 = 1100.7, barX1 = 1126.7;
const steps = d3.range(64).map(i => -1 + i / 32);
svg.append("g").selectAll("rect").data(steps).join("rect")
    .attr("x", barX0).attr("width", barX1 - barX0)
    .attr("y", d => barY(d + 1 / 32) - .5)
    .attr("height", d => barY(d) - barY(d + 1 / 32) + .5)
    .attr("fill", d => hot(d + 1 / 64));
svg.append("rect").attr("x", barX0).attr("y", barY(1)).attr("width", barX1 - barX0).attr("height", barY(-1) - barY(1))
    .attr("fill", "none").attr("stroke", "#cfcfcf");
svg.append("line").attr("x1", barX0).attr("x2", barX1).attr("y1", barY(-1)).attr("y2", barY(-1)).attr("stroke", "#fff");
const barAxis = d3.axisRight(barY).tickValues(barTicks).tickFormat(plain).tickSize(0).tickPadding(2);
const barG = svg.append("g").attr("transform", `translate(${barX1},0)`).call(barAxis);
barG.select(".domain").remove();
barTicks.forEach(d => {
    svg.append("line").attr("x1", barX1 - 4).attr("x2", barX1).attr("y1", barY(d)).attr("y2", barY(d)).attr("stroke", "#fff");
    svg.append("line").attr("x1", barX0).attr("x2", barX0 + 2).attr("y1", barY(d)).attr("y2", barY(d)).attr("stroke", "#fff").attr("stroke-opacity", .7);
});
</script>
</body>
</html>
